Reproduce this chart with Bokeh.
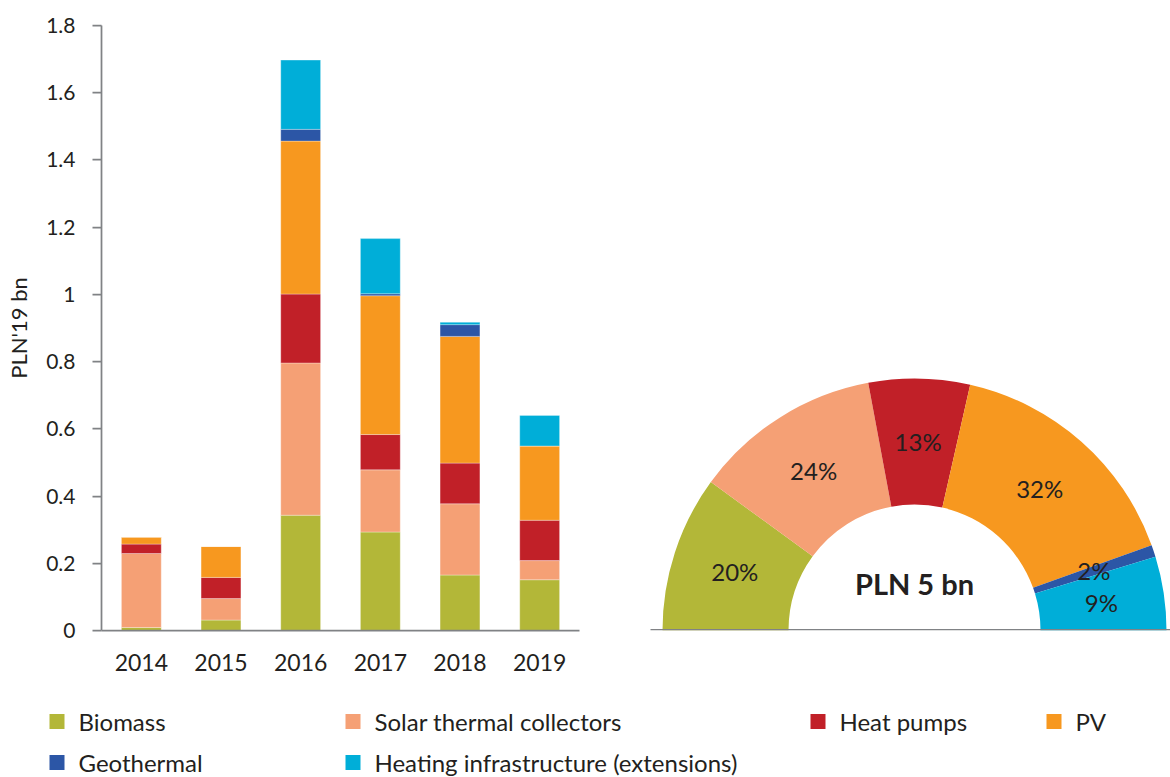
import math
from bokeh.plotting import figure
from bokeh.layouts import column, row
from bokeh.models import ColumnDataSource, Range1d, FactorRange, FixedTicker, NumeralTickFormatter
from bokeh.core.properties import value
from bokeh.embed import file_html
from bokeh.resources import INLINE

# ---------------- data ----------------
years = ["2014", "2015", "2016", "2017", "2018", "2019"]
series_names = ["Biomass", "Solar thermal collectors", "Heat pumps", "PV",
                "Geothermal", "Heating infrastructure (extensions)"]
series_colors = ["#B3B738", "#F5A075", "#C12028", "#F7981F", "#2C56A6", "#00AED8"]

biomass = [0.009, 0.031, 0.343, 0.293, 0.165, 0.151]
solar_thermal = [0.220, 0.064, 0.453, 0.185, 0.212, 0.057]
heat_pumps = [0.028, 0.063, 0.205, 0.105, 0.121, 0.120]
pv = [0.021, 0.092, 0.455, 0.413, 0.377, 0.221]
geothermal = [0.0, 0.0, 0.035, 0.006, 0.035, 0.0]
heating_infra = [0.0, 0.0, 0.206, 0.164, 0.007, 0.091]

y_ticks = [0, 0.2, 0.4, 0.6, 0.8, 1, 1.2, 1.4, 1.6, 1.8]
y_tick_labels = ["0", "0.2", "0.4", "0.6", "0.8", "1", "1.2", "1.4", "1.6", "1.8"]

FONT = "Lato"
TEXT = "#231F20"
AXIS = "#808285"

series_values = [biomass, solar_thermal, heat_pumps, pv, geothermal, heating_infra]
keys = ["s%d" % i for i in range(len(series_values))]
data = {"year": years}
for k, v in zip(keys, series_values):
    data[k] = v
src = ColumnDataSource(data)

TOP, BOTTOM = 25, 60      # frame borders shared by the two upper panels
ROW_H = 690

# ---------------- bar chart ----------------
bar = figure(x_range=FactorRange(factors=years, range_padding=0),
             y_range=Range1d(0, 1.8),
             width=600, height=ROW_H,
             min_border_left=101, min_border_right=21,
             min_border_top=TOP, min_border_bottom=BOTTOM,
             output_backend="svg", toolbar_location=None, tools="")
bar.vbar_stack(keys, x="year", width=0.5, fill_color=series_colors,
               line_color="white", line_width=0.6, line_alpha=0.5, source=src)

bar.xgrid.visible = False
bar.ygrid.visible = False
bar.outline_line_color = None

yax = bar.yaxis[0]
yax.ticker = FixedTicker(ticks=y_ticks)
yax.formatter = NumeralTickFormatter(format="0.[0]")
yax.major_label_overrides = dict(zip(y_ticks, y_tick_labels))
yax.axis_line_color = AXIS
yax.axis_line_width = 1.75
yax.major_tick_line_color = AXIS
yax.major_tick_line_width = 1.75
yax.major_tick_in = 0
yax.major_tick_out = 9
yax.minor_tick_line_color = None
yax.major_label_text_font = FONT
yax.major_label_text_font_size = "21px"
yax.major_label_text_color = TEXT
yax.major_label_standoff = 17
yax.axis_label = "PLN'19 bn"
yax.axis_label_text_font = FONT
yax.axis_label_text_font_size = "22px"
yax.axis_label_text_font_style = "normal"
yax.axis_label_text_color = TEXT
yax.axis_label_standoff = 11

xax = bar.xaxis[0]
xax.axis_line_color = AXIS
xax.axis_line_width = 1.75
xax.major_tick_line_color = None
xax.major_tick_in = 0
xax.major_tick_out = 0
xax.minor_tick_line_color = None
xax.major_label_text_font = FONT
xax.major_label_text_font_size = "23px"
xax.major_label_text_color = TEXT
xax.major_label_standoff = 23

# ---------------- half donut ----------------
totals = [sum(v) for v in series_values]
grand_total = sum(totals)
fracs = [t / grand_total for t in totals]
cum = [0.0]
for f in fracs:
    cum.append(cum[-1] + f)
start_angles = [math.pi * (1 - cum[i + 1]) for i in range(len(fracs))]
end_angles = [math.pi * (1 - cum[i]) for i in range(len(fracs))]
mids = [(a + b) / 2 for a, b in zip(start_angles, end_angles)]
INNER_R, OUTER_R = 126, 252
LABEL_R = (INNER_R + OUTER_R) / 2
pct_labels = ["%d%%" % round(100 * f) for f in fracs]

donut_src = ColumnDataSource(dict(
    start=start_angles, end=end_angles, color=series_colors,
    lx=[LABEL_R * math.cos(m) for m in mids],
    ly=[LABEL_R * math.sin(m) for m in mids],
    label=pct_labels))

frame_h = ROW_H - TOP - BOTTOM
donut = figure(width=570, height=ROW_H,
               x_range=Range1d(-314, 256), y_range=Range1d(0, frame_h),
               min_border_left=0, min_border_right=0,
               min_border_top=TOP, min_border_bottom=BOTTOM,
               x_axis_location=None, y_axis_location=None,
               output_backend="svg", toolbar_location=None, tools="")
donut.xgrid.visible = False
donut.ygrid.visible = False
donut.outline_line_color = None
donut.annular_wedge(x=0, y=0, inner_radius=INNER_R, outer_radius=OUTER_R,
                    start_angle="start", end_angle="end",
                    fill_color="color", line_color=None, source=donut_src)
donut.segment(x0=[-264], y0=[0.75], x1=[256], y1=[0.75], line_color=AXIS, line_width=1.5)
donut.text(x="lx", y="ly", text="label", source=donut_src,
           text_font=value(FONT), text_font_size=value("24px"),
           text_color=TEXT, text_align="center", text_baseline="middle")
donut.text(x=[0], y=[47], text=["PLN %d bn" % round(grand_total)],
           text_font=value(FONT), text_font_size=value("29px"),
           text_font_style="bold", text_color=TEXT,
           text_align="center", text_baseline="middle")

# ---------------- legend ----------------
leg_col_x = [49, 345, 810, 1046]
leg_row_y = [721, 762]
leg_col = [0, 1, 2, 3, 0, 1]
leg_row = [0, 0, 0, 0, 1, 1]
SQ = 15
leg_src = ColumnDataSource(dict(
    sx=[leg_col_x[c] + SQ / 2 for c in leg_col],
    tx=[leg_col_x[c] + 29 for c in leg_col],
    y=[leg_row_y[r] for r in leg_row],
    color=series_colors, name=series_names))

legend = figure(width=1170, height=87,
                x_range=Range1d(0, 1170), y_range=Range1d(777, 690),
                min_border=0, x_axis_location=None, y_axis_location=None,
                output_backend="svg", toolbar_location=None, tools="")
legend.xgrid.visible = False
legend.ygrid.visible = False
legend.outline_line_color = None
legend.rect(x="sx", y="y", width=SQ, height=SQ, fill_color="color",
            line_color=None, source=leg_src)
legend.text(x="tx", y="y", text="name", source=leg_src,
            text_font=value(FONT), text_font_size=value("24px"),
            text_color=TEXT, text_align="left", text_baseline="middle")

layout = column(row(bar, donut), legend)
open("out.html", "w").write(file_html(layout, INLINE))
